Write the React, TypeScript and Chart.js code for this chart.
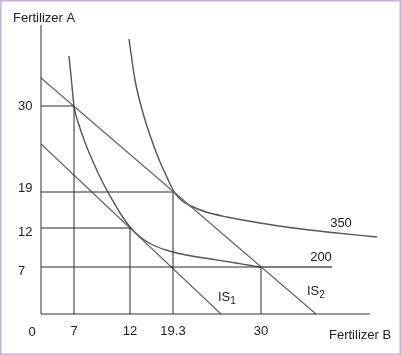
import React, { useEffect, useRef } from "react";
import { Chart, registerables } from "chart.js";

Chart.register(...registerables);

// Diagram units: schematic positions (origin at the axes' corner).
const xTickValues = [33, 89, 132, 220];
const xTickLabels = ["7", "12", "19.3", "30"];
const yTickValues = [208, 86, 122, 47];
const yTickLabels = ["30", "12", "19", "7"];
const originLabel = "0";

// Isoquant 200 (lower curve)
const q200X = [28, 30.5, 33, 38, 45, 53, 62, 72, 81, 89, 98, 110, 125, 145, 170, 195, 210, 220, 250, 291];
const q200Y = [258, 233, 208, 189, 169, 150, 131, 113, 98, 87, 78, 70, 64, 59, 55, 51, 48.5, 47, 47, 47];
// Isoquant 350 (upper curve)
const q350X = [88, 94, 102, 111, 119, 125, 130, 134, 140, 150, 165, 186, 219, 252, 286, 336];
const q350Y = [275, 234, 201, 173, 152, 139, 128, 121, 114, 108, 102, 97, 91, 86, 82, 77];
// Isocost lines: [x-intercept, y-intercept]
const is1 = [180, 170];
const is2 = [275, 236];
// Axis extents
const xAxisEnd = 329;
const yAxisEnd = 289;

const curveNames = ["350", "200"];
const lineNames = ["IS", "IS"];
const lineSubs = ["1", "2"];
const axisTitles = ["Fertilizer A", "Fertilizer B"];

const FONT = '"Liberation Sans", Arial, sans-serif';

export default function App() {
  const ref = useRef<HTMLCanvasElement | null>(null);

  useEffect(() => {
    if (!ref.current) return;
    const toPts = (xs: number[], ys: number[]) => xs.map((x, i) => ({ x, y: ys[i] }));
    const guideColor = "#2a2a2a";
    const curveColor = "#555555";

    const seg = (pts: { x: number; y: number }[], color: string, width = 1) => ({
      data: pts,
      showLine: true,
      borderColor: color,
      borderWidth: width,
      pointRadius: 0,
      fill: false,
    });

    const datasets: any[] = [];
    // axes
    datasets.push(seg([{ x: 0, y: 0 }, { x: 0, y: yAxisEnd }], "#333333"));
    datasets.push(seg([{ x: 0, y: 0 }, { x: xAxisEnd, y: 0 }], "#333333"));
    // guides: each x tick meets the y tick of the same economic point
    xTickValues.forEach((gx, i) => {
      const gy = yTickValues[i];
      datasets.push(seg([{ x: gx, y: 0 }, { x: gx, y: gy }], guideColor));
      datasets.push(seg([{ x: 0, y: gy }, { x: gx, y: gy }], guideColor));
    });
    // isocost lines
    datasets.push(seg([{ x: 0, y: is1[1] }, { x: is1[0], y: 0 }], "#666666", 1.2));
    datasets.push(seg([{ x: 0, y: is2[1] }, { x: is2[0], y: 0 }], "#666666", 1.2));
    // isoquants
    datasets.push({ ...seg(toPts(q200X, q200Y), curveColor, 1.4), cubicInterpolationMode: "monotone" });
    datasets.push({ ...seg(toPts(q350X, q350Y), curveColor, 1.4), cubicInterpolationMode: "monotone" });

    const textPlugin = {
      id: "texts",
      afterDraw(chart: any) {
        const ctx = chart.ctx;
        const sx = chart.scales.x;
        const sy = chart.scales.y;
        const X = (v: number) => sx.getPixelForValue(v);
        const Y = (v: number) => sy.getPixelForValue(v);
        ctx.save();
        ctx.fillStyle = "#222222";
        ctx.font = `13px ${FONT}`;
        ctx.textBaseline = "middle";
        // x tick labels
        ctx.textAlign = "center";
        xTickLabels.forEach((t, i) => ctx.fillText(t, X(xTickValues[i]), Y(-17)));
        ctx.fillText(originLabel, X(-9), Y(-18));
        // y tick labels
        ctx.textAlign = "left";
        yTickLabels.forEach((t, i) =>
          ctx.fillText(t, X(-23), Y(yTickValues[i]) + (yTickValues[i] < 100 ? 4 : yTickValues[i] < 150 ? -4 : 0))
        );
        // axis titles
        ctx.fillText(axisTitles[0], X(-28), Y(296));
        ctx.fillText(axisTitles[1], X(288), Y(-21));
        // curve labels
        ctx.textAlign = "center";
        ctx.fillText(curveNames[0], X(300), Y(91));
        ctx.fillText(curveNames[1], X(280), Y(57));
        // isocost labels
        ctx.textAlign = "left";
        const drawIS = (i: number, lx: number, ly: number) => {
          ctx.font = `13px ${FONT}`;
          ctx.fillText(lineNames[i], X(lx), Y(ly));
          const w = ctx.measureText(lineNames[i]).width;
          ctx.font = `10px ${FONT}`;
          ctx.fillText(lineSubs[i], X(lx) + w, Y(ly) + 4);
        };
        drawIS(0, 177, 17);
        drawIS(1, 266, 23);
        // frame
        ctx.strokeStyle = "#c2b3d9";
        ctx.lineWidth = 1.5;
        ctx.strokeRect(0.75, 0.75, chart.width - 1.5, chart.height - 1.5);
        ctx.restore();
      },
    };

    const chart = new Chart(ref.current, {
      type: "scatter",
      data: { datasets },
      options: {
        animation: false,
        responsive: false,
        maintainAspectRatio: false,
        layout: { padding: 0 },
        scales: {
          x: { type: "linear", min: -41, max: 360, display: false },
          y: { type: "linear", min: -41, max: 314, display: false },
        },
        plugins: { legend: { display: false }, tooltip: { enabled: false } },
      },
      plugins: [textPlugin],
    });
    return () => chart.destroy();
  }, []);

  return (
    <div style={{ position: "fixed", left: 0, top: 0, width: 401, height: 355, background: "#ffffff" }}>
      <canvas ref={ref} width={401} height={355} style={{ display: "block" }} />
    </div>
  );
}
